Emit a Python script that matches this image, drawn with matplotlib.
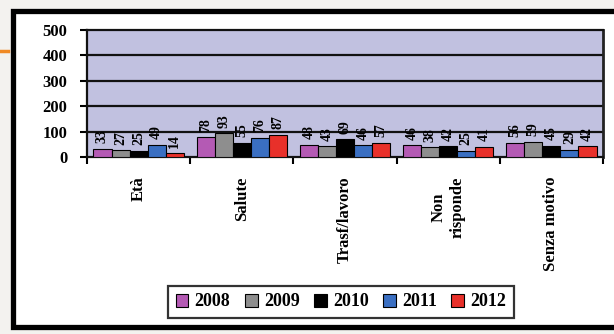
import matplotlib
matplotlib.use("Agg")
import matplotlib.pyplot as plt
import numpy as np
from matplotlib.patches import Rectangle
from matplotlib.lines import Line2D

# motivi e conteggi per anno
categorie = ["Età", "Salute", "Trasf/lavoro", "Non\nrisponde", "Senza motivo"]
anni = ["2008", "2009", "2010", "2011", "2012"]
v2008 = [33, 78, 48, 46, 56]
v2009 = [27, 93, 43, 38, 59]
v2010 = [25, 55, 69, 42, 45]
v2011 = [49, 76, 46, 25, 29]
v2012 = [14, 87, 57, 41, 42]
y_ticks = [0, 100, 200, 300, 400, 500]

serie = [v2008, v2009, v2010, v2011, v2012]
colori = ["#b45ab4", "#8e8e8e", "#000000", "#3a6fc2", "#e8302a"]

plt.rcParams["font.family"] = ["Liberation Serif", "DejaVu Serif"]
plt.rcParams["font.weight"] = "bold"

W, H = 614, 334
fig = plt.figure(figsize=(W / 100, H / 100), dpi=100)
fig.patch.set_facecolor("#f3f2ef")

# cornice bianca con bordo nero spesso, dietro il grafico
fig.patches.append(Rectangle((12.5 / W, 1 - 327 / H), (640 - 12.5) / W, (327 - 10.5) / H,
                             transform=fig.transFigure, facecolor="white",
                             edgecolor="black", linewidth=3.8, zorder=-10))
fig.lines.append(Line2D([0, 8 / W], [1 - 51 / H, 1 - 51 / H], transform=fig.transFigure,
                        color="#f08a24", linewidth=2.5, zorder=-5))

ax = fig.add_axes([87 / W, 1 - 157 / H, 516 / W, 127 / H])
ax.set_facecolor("#c1c1e0")

x = np.arange(len(categorie))
w = 0.175
for i, (vals, col) in enumerate(zip(serie, colori)):
    pos = x + (i - 2) * w
    bars = ax.bar(pos, vals, width=w, color=col, edgecolor="black", linewidth=0.8,
                  label=anni[i], zorder=3)
    for b, v in zip(bars, vals):
        ax.annotate(str(v), (b.get_x() + b.get_width() / 2, v), xytext=(0, 4),
                    textcoords="offset points", rotation=90, ha="center", va="bottom",
                    fontsize=10, fontweight="bold", zorder=4)

ax.set_xlim(-0.5, len(categorie) - 0.5)
ax.set_ylim(0, 500)
ax.set_yticks(y_ticks)
ax.set_yticklabels([str(t) for t in y_ticks], fontsize=12, fontweight="bold")
for t in y_ticks[1:-1]:
    ax.axhline(t, color="#111111", linewidth=1.6, zorder=2)

ax.set_xticks(np.arange(len(categorie) + 1) - 0.5)
ax.set_xticklabels([])
ax.set_xticks(x, minor=True)
ax.set_xticklabels(categorie, minor=True, rotation=90, fontsize=12, fontweight="bold",
                   va="top", ha="center", multialignment="center")
ax.tick_params(axis="x", which="major", length=5, width=1.5, direction="out")
ax.tick_params(axis="x", which="minor", length=0, pad=14)
ax.tick_params(axis="y", length=5, width=1.5, pad=9)

for s in ["left", "bottom", "top"]:
    ax.spines[s].set_linewidth(1.6)
    ax.spines[s].set_color("#111111")
ax.spines["right"].set_linewidth(2)
ax.spines["right"].set_color("#222222")

leg = fig.legend(loc="center", bbox_to_anchor=(341 / W, 1 - 302 / H), ncol=5,
                 frameon=True, fancybox=False, edgecolor="black", fontsize=13,
                 handlelength=0.7, handleheight=0.7, handletextpad=0.35,
                 columnspacing=0.8, borderpad=0.4)
leg.get_frame().set_linewidth(1.6)
for t in leg.get_texts():
    t.set_fontweight("bold")

fig.savefig("out.png", dpi=100, facecolor=fig.get_facecolor())
